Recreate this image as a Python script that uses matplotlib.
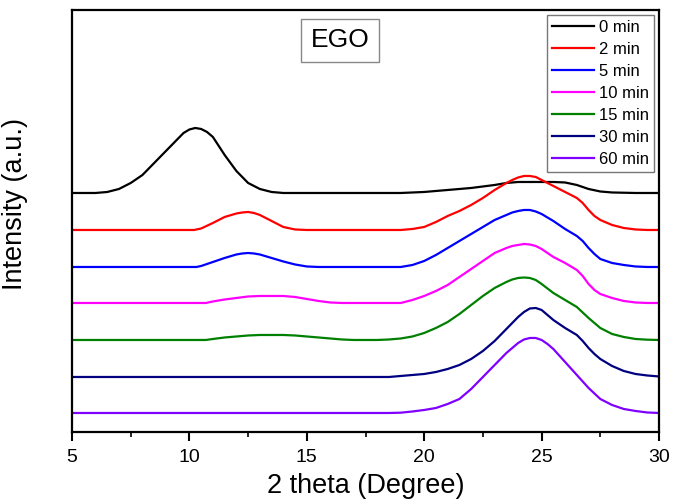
import matplotlib
matplotlib.use("Agg")
import matplotlib.pyplot as plt
from matplotlib.ticker import MultipleLocator

plt.rcParams['font.family'] = ['Liberation Sans', 'DejaVu Sans']

labels = ["0 min", "2 min", "5 min", "10 min", "15 min", "30 min", "60 min"]
colors = ["#000000", "#ff0000", "#0000ff", "#ff00ff", "#008000", "#000080", "#8000ff"]
offsets = [239, 202, 165, 129, 92, 55, 19]

# 2 theta positions (degrees) and intensities above each baseline (a.u.)
x_0 = [5, 6, 6.5, 7, 7.5, 8, 8.5, 9, 9.5, 9.75, 10, 10.25, 10.5, 10.75, 11, 11.5, 12, 12.5, 13,
       13.5, 14, 19, 20, 21, 22, 23, 23.5, 24, 24.5, 25, 25.5, 26, 26.5, 27, 27.5, 28, 29, 30]
i_0 = [0, 0, 1, 4, 10, 18, 30, 42, 54, 60, 63.5, 65, 64, 61, 56, 38, 22, 10, 4,
       1, 0, 0, 1, 3, 5, 8, 10, 11, 11, 11, 11, 10.5, 8, 4, 1.5, 0.5, 0, 0]

x_2 = [5, 10.2, 10.5, 11, 11.5, 12, 12.25, 12.5, 12.75, 13, 13.5, 14, 14.5, 15, 19, 19.5, 20,
       20.5, 21, 21.5, 22, 22.5, 23, 23.5, 23.75, 24, 24.25, 24.5, 24.75, 25, 25.5, 26, 26.5,
       26.75, 27, 27.25, 27.5, 28, 28.5, 29, 29.5, 30]
i_2 = [0, 0, 1.5, 7, 13, 16.5, 17.5, 18, 17, 15, 9, 3, 0.5, 0, 0, 1, 3,
       8, 14, 19, 25, 32, 40, 47, 50, 52.5, 54, 54, 53, 50, 44, 38, 32,
       27, 20, 14, 10, 5, 2, 0.5, 0, 0]

x_5 = [5, 10.3, 10.5, 11, 11.5, 12, 12.25, 12.5, 12.75, 13, 13.5, 14, 14.5, 15, 15.5, 19, 19.5,
       20, 20.5, 21, 21.5, 22, 22.5, 23, 23.5, 23.75, 24, 24.25, 24.5, 24.75, 25, 25.5, 26, 26.5,
       26.75, 27, 27.25, 27.5, 28, 28.5, 29, 29.5, 30]
i_5 = [0, 0, 1, 5, 9, 12.5, 13.5, 14, 13.5, 12.5, 9, 5.5, 2.5, 0.5, 0, 0, 2,
       6, 12, 19, 26, 33, 40, 47, 52, 54.5, 56, 57, 57, 55.5, 53, 46, 38, 31,
       26, 19, 13, 8, 4, 2, 0.5, 0, 0]

x_10 = [5, 10.7, 11, 11.5, 12, 12.5, 13, 13.5, 14, 14.5, 15, 15.5, 16, 16.5, 19, 19.5, 20, 20.5,
        21, 21.5, 22, 22.5, 23, 23.5, 23.75, 24, 24.25, 24.5, 24.75, 25, 25.5, 26, 26.5, 26.75,
        27, 27.25, 27.5, 28, 28.5, 29, 29.5, 30]
i_10 = [0, 0, 1.5, 3.5, 5, 6.5, 7, 7, 7, 6, 4, 2, 0.5, 0, 0, 3, 7, 12,
        18, 26, 34, 42, 50, 55, 57, 58, 59, 58.5, 57, 54, 46, 40, 33, 27,
        19, 13, 9, 5, 2, 0.5, 0, 0]

x_15 = [5, 10.7, 11, 11.5, 12, 12.5, 13, 13.5, 14, 14.5, 15, 15.5, 16, 16.5, 17, 18, 18.5, 19,
        19.5, 20, 20.5, 21, 21.5, 22, 22.5, 23, 23.5, 23.75, 24, 24.25, 24.5, 24.75, 25, 25.5,
        26, 26.5, 27, 27.5, 28, 28.5, 29, 29.5, 30]
i_15 = [0, 0, 1, 2.5, 3.5, 4.5, 5, 5, 5, 4.5, 3.5, 2.5, 1.5, 0.5, 0, 0, 0.5, 1.5,
        3.5, 7, 12, 18, 26, 35, 44, 52, 58, 60.5, 62, 62.5, 62, 60, 56, 47,
        40, 33, 22, 12, 6, 3, 1, 0.3, 0]

x_30 = [5, 18.5, 19, 19.5, 20, 20.5, 21, 21.5, 22, 22.5, 23, 23.5, 24, 24.25, 24.5, 24.75, 25,
        25.5, 26, 26.5, 26.75, 27, 27.25, 27.5, 28, 28.5, 29, 29.5, 30]
i_30 = [0, 0, 1, 2, 3, 5, 8, 12, 18, 26, 36, 48, 60, 65, 68.5, 69, 67,
        57, 49, 42, 36, 29, 23, 18, 11, 6, 3, 1.5, 0.5]

x_60 = [5, 18.5, 19, 19.5, 20, 20.5, 21, 21.5, 22, 22.5, 23, 23.5, 24, 24.25, 24.5, 24.75, 25,
        25.25, 25.5, 26, 26.5, 27, 27.5, 28, 28.5, 29, 29.5, 30]
i_60 = [0, 0, 0.3, 1.5, 3, 5, 9, 14, 24, 36, 48, 60, 70, 73.5, 75, 75, 73,
        69, 64, 51, 38, 25, 14, 8, 4, 2, 0.5, 0]

xs = [x_0, x_2, x_5, x_10, x_15, x_30, x_60]
series = [i_0, i_2, i_5, i_10, i_15, i_30, i_60]

fig = plt.figure(figsize=(6.75, 4.99), dpi=100)
ax = fig.add_axes([0.1067, 0.1343, 0.8696, 0.8457])

for x, vals, off, c, lab in zip(xs, series, offsets, colors, labels):
    ax.plot(x, [v + off for v in vals], color=c, lw=1.6, label=lab,
            solid_joinstyle='round')

ax.set_xlim(5, 30)
ax.set_ylim(0, 422)
ax.xaxis.set_major_locator(MultipleLocator(5))
ax.xaxis.set_minor_locator(MultipleLocator(2.5))
ax.set_yticks([])
ax.tick_params(axis='x', which='major', direction='out', length=6.5, width=1.5,
               labelsize=14, pad=6)
ax.tick_params(axis='x', which='minor', direction='out', length=3.5, width=1.2)
for s in ax.spines.values():
    s.set_linewidth(1.6)

ax.set_xlabel("2 theta (Degree)", fontsize=19.5, labelpad=5)
ax.set_ylabel("Intensity (a.u.)", fontsize=19.5)
ax.yaxis.set_label_coords(-0.075, 0.54)

ax.text(0.4566, 0.928, "EGO", transform=ax.transAxes, fontsize=19,
        ha='center', va='center',
        bbox=dict(boxstyle='square,pad=0.35', fc='white', ec='#888888', lw=1))

leg = ax.legend(loc='upper right', fontsize=12, handlelength=2.5,
                handletextpad=0.3, labelspacing=0.42, borderpad=0.3,
                borderaxespad=0.3, fancybox=False, framealpha=1,
                edgecolor='#777777')
leg.get_frame().set_linewidth(1.0)

fig.savefig("out.png", dpi=100)
